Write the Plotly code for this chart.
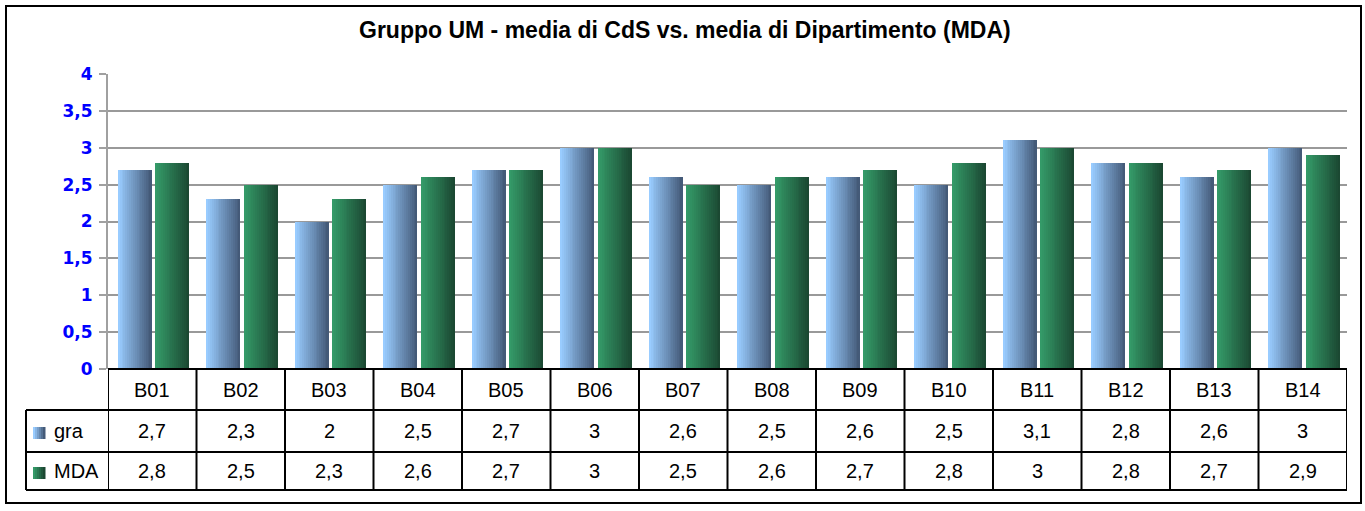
import plotly.graph_objects as go

categories = ["B01", "B02", "B03", "B04", "B05", "B06", "B07", "B08", "B09", "B10", "B11", "B12", "B13", "B14"]
gra = [2.7, 2.3, 2.0, 2.5, 2.7, 3.0, 2.6, 2.5, 2.6, 2.5, 3.1, 2.8, 2.6, 3.0]
mda = [2.8, 2.5, 2.3, 2.6, 2.7, 3.0, 2.5, 2.6, 2.7, 2.8, 3.0, 2.8, 2.7, 2.9]
series_names = ["gra", "MDA"]
y_ticks = [0, 0.5, 1, 1.5, 2, 2.5, 3, 3.5, 4]
title = "Gruppo UM - media di CdS vs. media di Dipartimento (MDA)"

W, H = 1365, 511
L, R, T, B = 108, 1347, 74, 369  # plot area in pixels


def px_x(p):
    return (p - L) / (R - L)


def px_y(p):
    return (B - p) / (B - T)


def fmt(v):
    s = ("%g" % v)
    return s.replace(".", ",")


def lerp(c1, c2, t):
    return "rgb(%d,%d,%d)" % tuple(round(a + (b - a) * t) for a, b in zip(c1, c2))


grad = {
    "gra": ((153, 204, 255), (68, 90, 120)),
    "MDA": ((52, 154, 104), (27, 72, 50)),
}

fig = go.Figure()
N = 18
bar_specs = [("gra", gra, -0.39), ("MDA", mda, 0.035)]
bw = 0.385
x_idx = list(range(len(categories)))
for name, vals, off in bar_specs:
    c1, c2 = grad[name]
    for k in range(N):
        t = k / (N - 1)
        sw = bw / N
        fig.add_trace(go.Bar(
            x=x_idx, y=vals,
            offset=off + k * sw,
            width=sw * (1.15 if k < N - 1 else 1.0),
            marker=dict(color=lerp(c1, c2, t), line=dict(width=0)),
            name=name, showlegend=False, hoverinfo="skip" if k else "y",
        ))

shapes = []
annotations = []
BLACK = "#000000"
lw = 2
# table geometry (pixels)
row_top, row1, row2, row_bot = 369, 410, 452, 490
left_col = 26

# horizontal lines
shapes.append(dict(type="line", xref="paper", yref="paper", x0=px_x(L), x1=px_x(R), y0=px_y(row_top), y1=px_y(row_top), line=dict(color=BLACK, width=lw)))
for yy in (row1, row2, row_bot):
    shapes.append(dict(type="line", xref="paper", yref="paper", x0=px_x(left_col), x1=px_x(R), y0=px_y(yy), y1=px_y(yy), line=dict(color=BLACK, width=lw)))
# left column border
shapes.append(dict(type="line", xref="paper", yref="paper", x0=px_x(left_col), x1=px_x(left_col), y0=px_y(row1), y1=px_y(row_bot), line=dict(color=BLACK, width=lw)))
# vertical category boundaries
for i in range(len(categories) + 1):
    xv = i - 0.5
    shapes.append(dict(type="line", xref="x", yref="paper", x0=xv, x1=xv, y0=px_y(row_top), y1=px_y(row_bot), line=dict(color=BLACK, width=lw)))
# outer frame
shapes.append(dict(type="rect", xref="paper", yref="paper", x0=px_x(6), x1=px_x(1361), y0=px_y(6), y1=px_y(503), line=dict(color=BLACK, width=2), fillcolor="rgba(0,0,0,0)", layer="below"))

FONT = "Arial, Liberation Sans, sans-serif"
TS = 20
# category labels and values
for i, c in enumerate(categories):
    for txt, yy in ((c, (row_top + row1) / 2), (fmt(gra[i]), (row1 + row2) / 2), (fmt(mda[i]), (row2 + row_bot) / 2)):
        annotations.append(dict(x=i, y=px_y(yy), xref="x", yref="paper", text=txt, showarrow=False,
                                xanchor="center", yanchor="middle", font=dict(family=FONT, size=TS, color="black")))

# legend keys in table
for r_idx, (name, (ya, yb)) in enumerate(zip(series_names, [(row1, row2), (row2, row_bot)])):
    yc = (ya + yb) / 2 + 2
    c1, c2 = grad[name]
    kx0, kx1 = 33, 45
    M = 6
    for k in range(M):
        xa = kx0 + (kx1 - kx0) * k / M
        xb = kx0 + (kx1 - kx0) * (k + 1) / M + 0.5
        shapes.append(dict(type="rect", xref="paper", yref="paper", x0=px_x(xa), x1=px_x(xb), y0=px_y(yc - 6), y1=px_y(yc + 6), line=dict(width=0), fillcolor=lerp(c1, c2, k / (M - 1))))
    annotations.append(dict(x=px_x(52), y=px_y((ya + yb) / 2), xref="paper", yref="paper", text=name, showarrow=False,
                            xanchor="left", yanchor="middle", font=dict(family=FONT, size=TS, color="black")))

# title
annotations.append(dict(x=px_x(685), y=px_y(30), xref="paper", yref="paper", text="<b>" + title + "</b>", showarrow=False,
                        xanchor="center", yanchor="middle", font=dict(family=FONT, size=23, color="black")))

fig.update_layout(
    width=W, height=H, autosize=False,
    margin=dict(l=L, r=W - R, t=T, b=H - B, pad=0),
    paper_bgcolor="white", plot_bgcolor="white",
    barmode="overlay", bargap=0,
    showlegend=False,
    shapes=shapes, annotations=annotations,
    xaxis=dict(range=[-0.5, len(categories) - 0.5], showticklabels=False, showgrid=False, zeroline=False, showline=False, ticks=""),
    yaxis=dict(range=[0, 4], tickvals=y_ticks, ticktext=[fmt(v) for v in y_ticks],
               tickfont=dict(family="Tahoma, DejaVu Sans, sans-serif", size=17, color="#0000FF", weight="bold"),
               showgrid=True, gridcolor="#999999", gridwidth=2, zeroline=False,
               showline=True, linecolor="#A0A0A0", linewidth=2,
               ticks="outside", ticklen=7, tickcolor="#A0A0A0", tickwidth=2, ticklabelstandoff=3),
)

fig.write_html("out.html", config={"displayModeBar": False},
               post_script="document.body.style.margin='0px';document.body.style.padding='0px';")
